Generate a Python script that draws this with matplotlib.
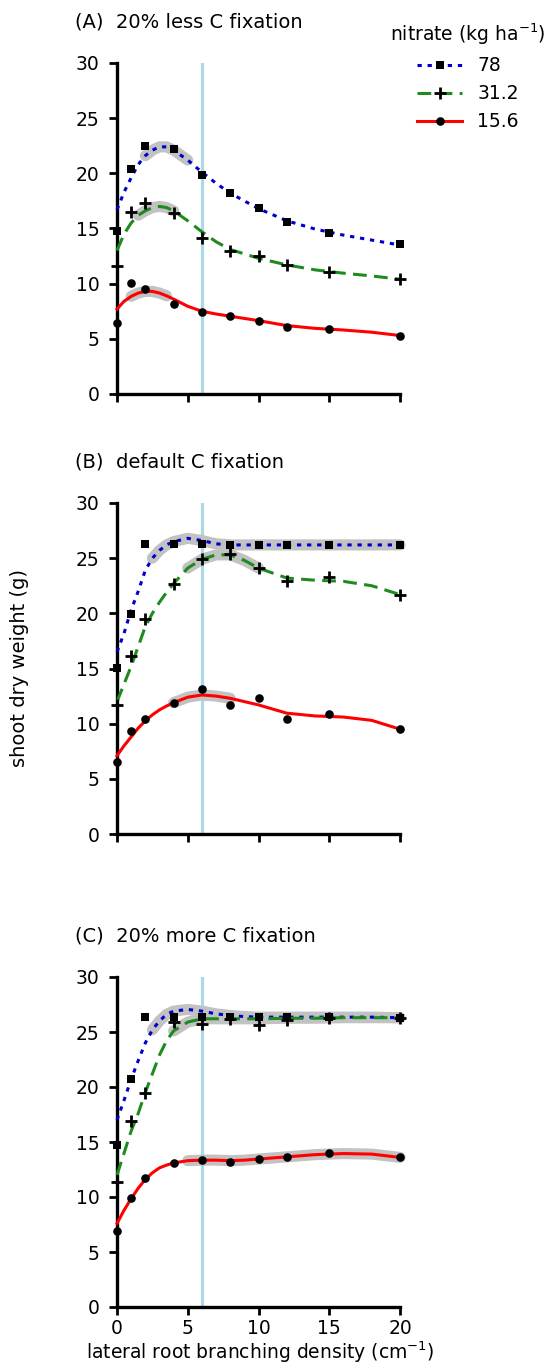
import numpy as np
import matplotlib
matplotlib.use("Agg")
import matplotlib.pyplot as plt
from matplotlib.lines import Line2D

plt.rcParams['font.family'] = ['DejaVu Sans']

# measured points
x_pts = [0, 1, 2, 4, 6, 8, 10, 12, 15, 20]

a_78 = [14.8, 20.35, 22.5, 22.2, 19.85, 18.2, 16.9, 15.6, 14.6, 13.55]
a_31 = [11.6, 16.5, 17.35, 16.4, 14.1, 13.0, 12.55, 11.65, 11.1, 10.4]
a_15 = [6.45, 10.1, 9.5, 8.15, 7.4, 7.05, 6.65, 6.1, 5.85, 5.3]

b_78 = [15.05, 19.95, 26.3, 26.3, 26.25, 26.15, 26.15, 26.2, 26.2, 26.2]
b_31 = [11.65, 16.1, 19.45, 22.7, 24.95, 25.4, 24.1, 22.95, 23.3, 21.65]
b_15 = [6.5, 9.3, 10.45, 11.85, 13.1, 11.65, 12.3, 10.4, 10.85, 9.5]

c_78 = [14.7, 20.75, 26.35, 26.4, 26.35, 26.35, 26.35, 26.35, 26.35, 26.3]
c_31 = [11.35, 16.9, 19.45, 25.9, 25.7, 26.2, 25.6, 26.1, 26.3, 26.3]
c_15 = [6.95, 9.95, 11.75, 13.05, 13.35, 13.2, 13.45, 13.65, 14.0, 13.6]

# smoothed fits
x_fit = [0, 0.5, 1, 1.5, 2, 2.5, 3, 3.5, 4, 5, 6, 7, 8, 9, 10, 12, 14, 16, 18, 20]

a_78_fit = [16.7, 18.3, 19.6, 20.8, 21.6, 22.1, 22.4, 22.4, 22.1, 21.2, 20.1, 19.1, 18.2, 17.5, 16.8, 15.7, 14.95, 14.4, 13.95, 13.5]
a_31_fit = [13.0, 14.5, 15.5, 16.2, 16.6, 16.9, 17.0, 16.9, 16.6, 15.7, 14.7, 13.8, 13.1, 12.7, 12.3, 11.7, 11.25, 10.95, 10.7, 10.4]
a_15_fit = [7.7, 8.4, 8.85, 9.15, 9.3, 9.3, 9.15, 8.9, 8.6, 7.95, 7.5, 7.25, 7.05, 6.85, 6.65, 6.2, 5.95, 5.8, 5.6, 5.3]

b_78_fit = [16.5, 18.2, 20.3, 22.0, 23.9, 25.0, 25.7, 26.2, 26.5, 26.8, 26.6, 26.3, 26.2, 26.2, 26.2, 26.2, 26.2, 26.2, 26.2, 26.2]
b_31_fit = [12.0, 13.6, 15.2, 17.0, 18.8, 20.0, 21.0, 21.9, 22.7, 24.1, 24.9, 25.3, 25.3, 24.8, 24.1, 23.2, 23.0, 22.9, 22.5, 21.7]
b_15_fit = [7.1, 8.0, 8.8, 9.6, 10.25, 10.8, 11.25, 11.6, 11.9, 12.4, 12.6, 12.5, 12.3, 12.0, 11.7, 10.95, 10.7, 10.6, 10.3, 9.5]

c_78_fit = [17.0, 18.8, 20.7, 22.4, 24.0, 25.2, 26.0, 26.6, 26.9, 27.05, 26.9, 26.65, 26.5, 26.4, 26.35, 26.35, 26.35, 26.35, 26.35, 26.3]
c_31_fit = [12.0, 14.0, 16.0, 17.6, 19.5, 21.2, 22.9, 24.2, 25.1, 25.9, 26.2, 26.2, 26.2, 26.2, 26.2, 26.25, 26.25, 26.3, 26.3, 26.3]
c_15_fit = [7.6, 8.8, 9.85, 10.8, 11.6, 12.2, 12.65, 12.9, 13.1, 13.3, 13.35, 13.35, 13.3, 13.35, 13.45, 13.65, 13.85, 13.95, 13.9, 13.6]

# x ranges of the grey bands (lo, hi) for 78 / 31.2 / 15.6
a_bands = [(2, 5), (1.5, 4.5), (1, 3.5)]
b_bands = [(2.5, 20), (5, 10), (4, 8)]
c_bands = [(2.5, 20), (4, 20), (5, 20)]

titles = ['(A)  20% less C fixation', '(B)  default C fixation', '(C)  20% more C fixation']
nitrate = ['78', '31.2', '15.6']
optimum = 6

panels = [
    ([a_78, a_31, a_15], [a_78_fit, a_31_fit, a_15_fit], a_bands),
    ([b_78, b_31, b_15], [b_78_fit, b_31_fit, b_15_fit], b_bands),
    ([c_78, c_31, c_15], [c_78_fit, c_31_fit, c_15_fit], c_bands),
]

W, H = 548, 1367
fig = plt.figure(figsize=(W / 100, H / 100), dpi=100)

colors = ['#0000cd', '#1e8b1e', '#ff0000']
dashes = [(1.4, 1.9), (4.5, 2.4), None]
markers = ['s', '+', 'o']
msizes = [5.8, 8, 6.2]
mews = [0, 2.0, 0]

# axes frames in pixels: top (y=30) and bottom (y=0)
frames = [(63, 394), (503, 834), (977, 1307)]
left, right = 117, 400

for i, (pts, fits, bands) in enumerate(panels):
    top, bot = frames[i]
    ax = fig.add_axes([left / W, 1 - bot / H, (right - left) / W, (bot - top) / H])
    ax.axvline(optimum, color='#add8e6', lw=2.3, zorder=1)
    xf = np.array(x_fit)
    for j in range(3):
        yf = np.array(fits[j])
        lo, hi = bands[j]
        m = (xf >= lo) & (xf <= hi)
        ax.plot(xf[m], yf[m], color='#c2c2c2', lw=8, solid_capstyle='round',
                solid_joinstyle='round', zorder=2, clip_on=False)
    for j in range(3):
        ln, = ax.plot(x_fit, fits[j], color=colors[j], lw=2.2, zorder=3, clip_on=False)
        if dashes[j] is not None:
            ln.set_dashes(dashes[j])
            ln.set_dash_capstyle('butt')
        ax.plot(x_pts, pts[j], linestyle='none', marker=markers[j], ms=msizes[j],
                mew=mews[j], color='black', zorder=4, clip_on=False)
    ax.set_xlim(0, 20)
    ax.set_ylim(0, 30)
    ax.set_xticks([0, 5, 10, 15, 20])
    ax.set_yticks([0, 5, 10, 15, 20, 25, 30])
    for s in ['top', 'right']:
        ax.spines[s].set_visible(False)
    for s in ['left', 'bottom']:
        ax.spines[s].set_linewidth(2.4)
    ax.tick_params(direction='out', length=6, width=2.0, labelsize=13.5, pad=6.5)
    if i < 2:
        ax.set_xticklabels([])
    else:
        ax.tick_params(axis='x', pad=3)
    fig.text(75 / W, 1 - (top - 41) / H, titles[i], fontsize=14, ha='left', va='center')

fig.text(20 / W, 1 - 668 / H, 'shoot dry weight (g)', rotation=90, fontsize=14,
         ha='center', va='center')
fig.text(260 / W, 1 - 1352 / H, 'lateral root branching density (cm$^{-1}$)',
         fontsize=13.5, ha='center', va='center')

handles = []
for j in range(3):
    h = Line2D([], [], color=colors[j], lw=2.2, marker=markers[j], ms=msizes[j],
               mew=mews[j], markerfacecolor='black', markeredgecolor='black')
    if dashes[j] is not None:
        h.set_dashes(dashes[j])
    handles.append(h)
leg = fig.legend(handles, nitrate, loc='upper center', bbox_to_anchor=(468 / W, 1 - 5 / H),
                 frameon=False, fontsize=13.5, title='nitrate (kg ha$^{-1}$)', title_fontsize=13.5,
                 handlelength=2.4, handletextpad=0.8, labelspacing=0.48)

fig.savefig('out.png', dpi=100)
